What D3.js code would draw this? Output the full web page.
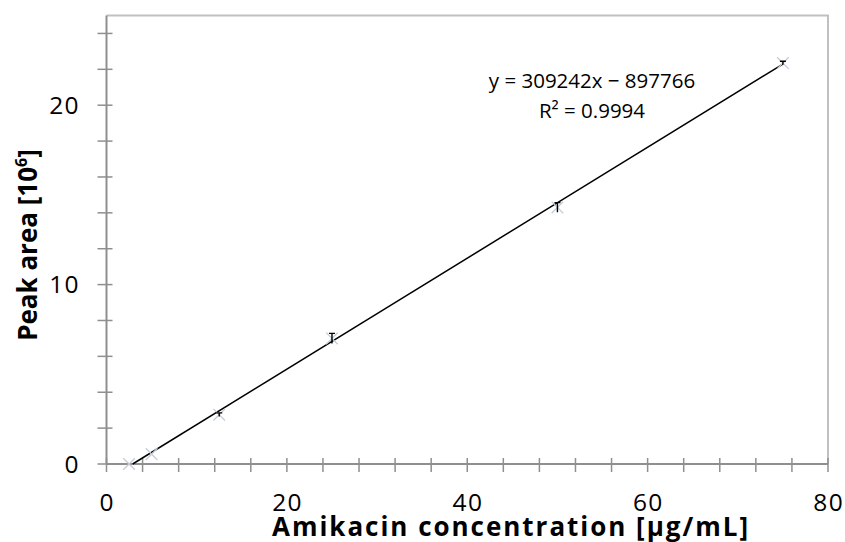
<!DOCTYPE html>
<html>
<head>
<meta charset="utf-8">
<script src="https://cdn.jsdelivr.net/npm/d3@7"></script>
<style>
  html, body { margin: 0; padding: 0; background: #fff; }
  svg { display: block; font-family: "Open Sans", "DejaVu Sans", sans-serif; }
</style>
</head>
<body>
<svg id="chart" width="845" height="542"></svg>
<script>
// Data (peak area in units of 10^6)
const concentrations = [2.5, 5, 12.5, 25, 50, 75];
const peakAreas = [0.0, 0.55, 2.75, 7.0, 14.3, 22.35];
const peakErrors = [0, 0, 0.1, 0.28, 0.27, 0.1];
const trendSlope = 0.309242;      // 309242 per µg/mL, in 10^6
const trendIntercept = -0.897766; // -897766, in 10^6
const equationLabels = ["y = 309242x − 897766", "R² = 0.9994"];
const xMajorTicks = [0, 20, 40, 60, 80];
const xMinorTicks = d3.range(0, 81, 4);
const yMajorTicks = [0, 10, 20];
const yMinorTicks = d3.range(0, 25, 2);

const svg = d3.select("#chart");
const pLeft = 106.5, pRight = 828, pTop = 15.5, pBottom = 464;

const x = d3.scaleLinear().domain([0, 80]).range([pLeft, pRight]);
const y = d3.scaleLinear().domain([0, 25]).range([pBottom, pTop]);

// Plot border (top & right)
svg.append("path")
  .attr("d", `M${pLeft},${pTop}H${pRight}V${pBottom}`)
  .attr("fill", "none").attr("stroke", "#c0c0c0").attr("stroke-width", 2);

// Axes lines
const axisColor = "#8f8f8f";
svg.append("line").attr("x1", pLeft).attr("x2", pRight).attr("y1", pBottom).attr("y2", pBottom)
  .attr("stroke", axisColor).attr("stroke-width", 2);
svg.append("line").attr("x1", pLeft).attr("x2", pLeft).attr("y1", pTop).attr("y2", pBottom)
  .attr("stroke", axisColor).attr("stroke-width", 2);

// X ticks (cross)
svg.append("g").selectAll("line").data(xMinorTicks).join("line")
  .attr("x1", d => x(d)).attr("x2", d => x(d))
  .attr("y1", pBottom - 6).attr("y2", pBottom + 8)
  .attr("stroke", axisColor).attr("stroke-width", 1.5);
// Y ticks (cross)
svg.append("g").selectAll("line").data(yMinorTicks).join("line")
  .attr("x1", pLeft - 9).attr("x2", pLeft + 6)
  .attr("y1", d => y(d)).attr("y2", d => y(d))
  .attr("stroke", axisColor).attr("stroke-width", 1.5);

// Tick labels
svg.append("g").selectAll("text").data(xMajorTicks).join("text")
  .attr("x", d => x(d) + 0.7).attr("y", 511)
  .attr("text-anchor", "middle").attr("font-size", 24.5).attr("letter-spacing", 1.4)
  .attr("fill", "#000")
  .text(d => d);
svg.append("g").selectAll("text").data(yMajorTicks).join("text")
  .attr("x", 80).attr("y", d => y(d) + 8.8)
  .attr("text-anchor", "end").attr("font-size", 24.5).attr("letter-spacing", 1.4)
  .attr("fill", "#000")
  .text(d => d);

// Axis titles
svg.append("text")
  .attr("x", 510).attr("y", 536)
  .attr("text-anchor", "middle").attr("font-size", 26).attr("font-weight", "bold")
  .attr("textLength", 476).attr("lengthAdjust", "spacing")
  .attr("fill", "#000")
  .text("Amikacin concentration [µg/mL]");
const yt = svg.append("text")
  .attr("transform", "translate(37,245) rotate(-90)")
  .attr("text-anchor", "middle").attr("font-size", 26).attr("font-weight", "bold")
  .attr("fill", "#000");
yt.append("tspan").text("Peak area [10");
yt.append("tspan").attr("font-size", 16).attr("dy", -10).text("6");
yt.append("tspan").attr("dy", 10).text("]");

// Trendline (clipped at y = 0)
const xStart = -trendIntercept / trendSlope;
const xEnd = d3.max(concentrations);
svg.append("line")
  .attr("x1", x(xStart)).attr("y1", y(trendSlope * xStart + trendIntercept))
  .attr("x2", x(xEnd)).attr("y2", y(trendSlope * xEnd + trendIntercept))
  .attr("stroke", "#000").attr("stroke-width", 1.5);

// Markers (x)
const pts = concentrations.map((c, i) => ({c, v: peakAreas[i], e: peakErrors[i]}));
const ms = 5.8;
svg.append("g").selectAll("path").data(pts).join("path")
  .attr("d", d => {
    const cx = x(d.c), cy = y(d.v);
    return `M${cx - ms},${cy - ms}L${cx + ms},${cy + ms}M${cx - ms},${cy + ms}L${cx + ms},${cy - ms}`;
  })
  .attr("stroke", "#c4ccd8").attr("stroke-width", 1.3).attr("fill", "none");

// Error bars (cap visible at top end)
svg.append("g").selectAll("path").data(pts.filter(d => d.e > 0)).join("path")
  .attr("d", d => {
    const cx = x(d.c), y1 = y(d.v + d.e), y2 = y(d.v - d.e);
    return `M${cx},${y1}V${y2}M${cx - 3},${y1}H${cx + 3}`;
  })
  .attr("stroke", "#000").attr("stroke-width", 1.4).attr("fill", "none");

// Equation labels
svg.append("g").selectAll("text").data(equationLabels).join("text")
  .attr("x", 592).attr("y", (d, i) => 88 + i * 29.5)
  .attr("text-anchor", "middle").attr("font-size", 20.5).attr("fill", "#000")
  .text(d => d);
</script>
</body>
</html>
